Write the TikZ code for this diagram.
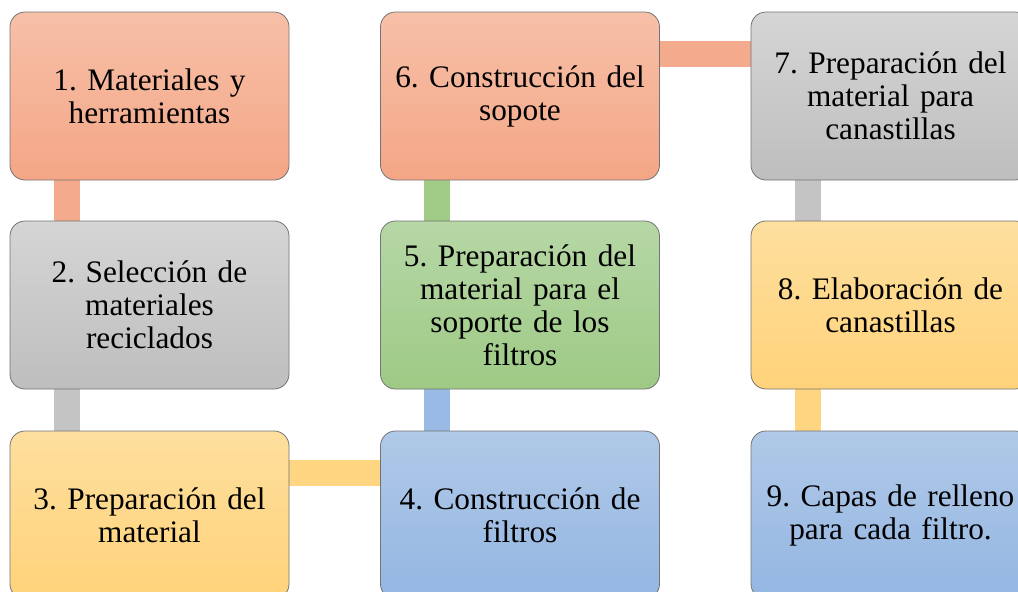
\documentclass[tikz,border=0pt]{standalone}
\usepackage{fontspec}
\setmainfont{Liberation Serif}
\usetikzlibrary{backgrounds}
\frenchspacing
\definecolor{salT}{RGB}{247,192,168}
\definecolor{salB}{RGB}{244,166,134}
\definecolor{salC}{RGB}{244,170,140}
\definecolor{grT}{RGB}{213,213,213}
\definecolor{grB}{RGB}{190,190,190}
\definecolor{grC}{RGB}{196,196,196}
\definecolor{yeT}{RGB}{254,223,158}
\definecolor{yeB}{RGB}{255,211,122}
\definecolor{yeC}{RGB}{254,214,130}
\definecolor{gnT}{RGB}{182,215,166}
\definecolor{gnB}{RGB}{158,202,133}
\definecolor{gnC}{RGB}{160,204,135}
\definecolor{blT}{RGB}{176,201,232}
\definecolor{blB}{RGB}{148,182,226}
\definecolor{blC}{RGB}{153,186,228}
\definecolor{edge}{RGB}{115,115,115}
\tikzset{
  box/.style={draw=edge, line width=0.8pt, rounded corners=15pt, minimum width=279pt,
    minimum height=168pt, inner sep=0pt, align=center, text width=270pt,
    font=\fontsize{31.3}{33}\selectfont\frenchspacing},
  salbox/.style={box, top color=salT, bottom color=salB},
  grbox/.style={box, top color=grT, bottom color=grB},
  yebox/.style={box, top color=yeT, bottom color=yeB},
  gnbox/.style={box, top color=gnT, bottom color=gnB},
  blbox/.style={box, top color=blT, bottom color=blB},
  conn/.style={line width=26pt, line cap=butt}
}
\begin{document}
\begin{tikzpicture}[x=1pt,y=-1pt]
\useasboundingbox (0,0) rectangle (1018,592);
\begin{scope}
\clip (0,0) rectangle (1018,592);
\node[salbox] (n1) at (149.5,96) {1. Materiales y\\herramientas};
\node[grbox]  (n2) at (149.5,305) {2. Selección de\\materiales\\reciclados};
\node[yebox]  (n3) at (149.5,515) {3. Preparación del\\material};
\node[blbox]  (n4) at (520,515) {4. Construcción de\\filtros};
\node[gnbox]  (n5) at (520,305) {5. Preparación del\\material para el\\soporte de los\\filtros};
\node[salbox] (n6) at (520,96) {6. Construcción del\\sopote};
\node[grbox]  (n7) at (890.5,96) {7. Preparación del\\material para\\canastillas};
\node[yebox]  (n8) at (890.5,305) {8. Elaboración de\\canastillas};
\node[blbox]  (n9) at (890.5,515) {9. Capas de relleno\\para cada filtro.};
\begin{scope}[on background layer]
\draw[conn, salC] ([xshift=57pt]n1.south west) -- ([xshift=57pt]n2.north west);
\draw[conn, grC]  ([xshift=57pt]n2.south west) -- ([xshift=57pt]n3.north west);
\draw[conn, yeC]  ([yshift=-42pt]n3.north east) -- ([yshift=-42pt]n4.north west);
\draw[conn, blC]  ([xshift=57pt]n4.north west) -- ([xshift=57pt]n5.south west);
\draw[conn, gnC]  ([xshift=57pt]n5.north west) -- ([xshift=57pt]n6.south west);
\draw[conn, salC] ([yshift=-42pt]n6.north east) -- ([yshift=-42pt]n7.north west);
\draw[conn, grC]  ([xshift=57pt]n7.south west) -- ([xshift=57pt]n8.north west);
\draw[conn, yeC]  ([xshift=57pt]n8.south west) -- ([xshift=57pt]n9.north west);
\end{scope}
\end{scope}
\end{tikzpicture}
\end{document}
